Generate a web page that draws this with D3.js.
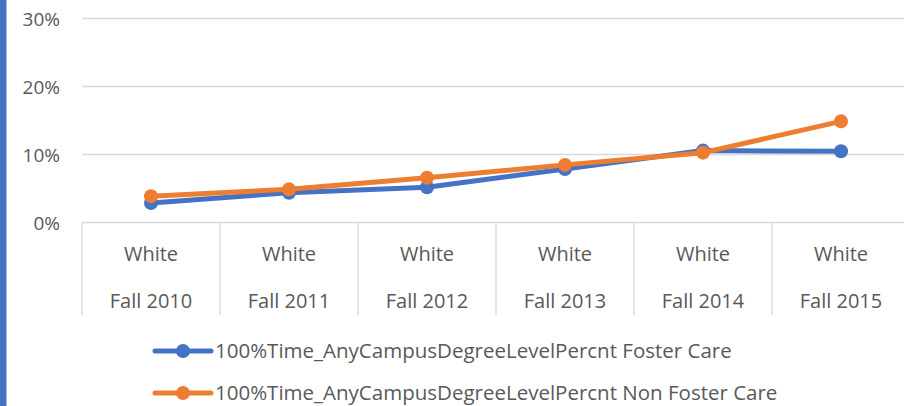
<!DOCTYPE html>
<html>
<head>
<meta charset="utf-8">
<script src="https://cdn.jsdelivr.net/npm/d3@7"></script>
<style>
  body { margin: 0; background: #fff; }
  svg text { font-family: "Open Sans", "Liberation Sans", sans-serif; fill: #595959; }
</style>
</head>
<body>
<div id="chart"></div>
<script>
// data
var categories = ["Fall 2010", "Fall 2011", "Fall 2012", "Fall 2013", "Fall 2014", "Fall 2015"];
var groupLabel = "White";
var fosterCare = [0.028, 0.043, 0.051, 0.078, 0.105, 0.104];
var nonFosterCare = [0.038, 0.048, 0.065, 0.084, 0.102, 0.148];
var yTicks = [0, 0.1, 0.2, 0.3];
var seriesNames = [
  "100%Time_AnyCampusDegreeLevelPercnt Foster Care",
  "100%Time_AnyCampusDegreeLevelPercnt Non Foster Care"
];
var colors = ["#4472C4", "#ED7D31"];

var W = 904, H = 406;
var margin = { top: 18, left: 82 };
var plotW = 138 * 6, plotH = 204;

var svg = d3.select("#chart").append("svg")
  .attr("width", W)
  .attr("height", H);

// blue stripe at the left edge
svg.append("rect").attr("x", 0).attr("y", 0).attr("width", 6.5).attr("height", H).attr("fill", "#4472C4");

var g = svg.append("g").attr("transform", "translate(" + margin.left + "," + margin.top + ")");

var x = d3.scaleBand().domain(categories).range([0, plotW]);
var y = d3.scaleLinear().domain([0, 0.3]).range([plotH, 0]);

// gridlines + y labels
var yAxis = d3.axisLeft(y).tickValues(yTicks).tickSize(-plotW).tickPadding(22).tickFormat(d3.format(".0%"));
g.append("g").call(yAxis)
  .call(function (s) {
    s.select(".domain").remove();
    s.selectAll("line").attr("stroke", "#d9d9d9").attr("stroke-width", 1.3);
    s.selectAll("text").style("font-size", "19px").attr("fill", "#595959").attr("dy", "0.4em");
  });

// category axis box
var boxH = 93;
var cat = g.append("g").attr("transform", "translate(0," + plotH + ")");
cat.selectAll("line.sep").data(d3.range(categories.length + 1)).enter().append("line")
  .attr("x1", function (i) { return i * x.bandwidth(); })
  .attr("x2", function (i) { return i * x.bandwidth(); })
  .attr("y1", 0).attr("y2", boxH)
  .attr("stroke", "#d9d9d9").attr("stroke-width", 1.3);
cat.selectAll("text.grp").data(categories).enter().append("text")
  .attr("x", function (d) { return x(d) + x.bandwidth() / 2; })
  .attr("y", 39)
  .attr("text-anchor", "middle")
  .style("font-size", "20px")
  .text(groupLabel);
cat.selectAll("text.yr").data(categories).enter().append("text")
  .attr("x", function (d) { return x(d) + x.bandwidth() / 2; })
  .attr("y", 86)
  .attr("text-anchor", "middle")
  .style("font-size", "20px")
  .text(function (d) { return d; });

// lines
var allSeries = [fosterCare, nonFosterCare];
var line = d3.line()
  .x(function (d, i) { return x(categories[i]) + x.bandwidth() / 2; })
  .y(function (d) { return y(d); });

allSeries.forEach(function (vals, k) {
  g.append("path")
    .datum(vals)
    .attr("fill", "none")
    .attr("stroke", colors[k])
    .attr("stroke-width", 5)
    .attr("stroke-linejoin", "round")
    .attr("d", line);
  g.selectAll(null).data(vals).enter().append("circle")
    .attr("cx", function (d, i) { return x(categories[i]) + x.bandwidth() / 2; })
    .attr("cy", function (d) { return y(d); })
    .attr("r", 7)
    .attr("fill", colors[k]);
});

// legend
var legend = svg.append("g");
seriesNames.forEach(function (name, k) {
  var ly = 351 + k * 42;
  legend.append("line").attr("x1", 155).attr("x2", 211).attr("y1", ly).attr("y2", ly)
    .attr("stroke", colors[k]).attr("stroke-width", 5).attr("stroke-linecap", "round");
  legend.append("circle").attr("cx", 183).attr("cy", ly).attr("r", 7).attr("fill", colors[k]);
  legend.append("text").attr("x", 215).attr("y", ly + 7)
    .style("font-size", "20.5px")
    .text(name);
});
</script>
</body>
</html>
